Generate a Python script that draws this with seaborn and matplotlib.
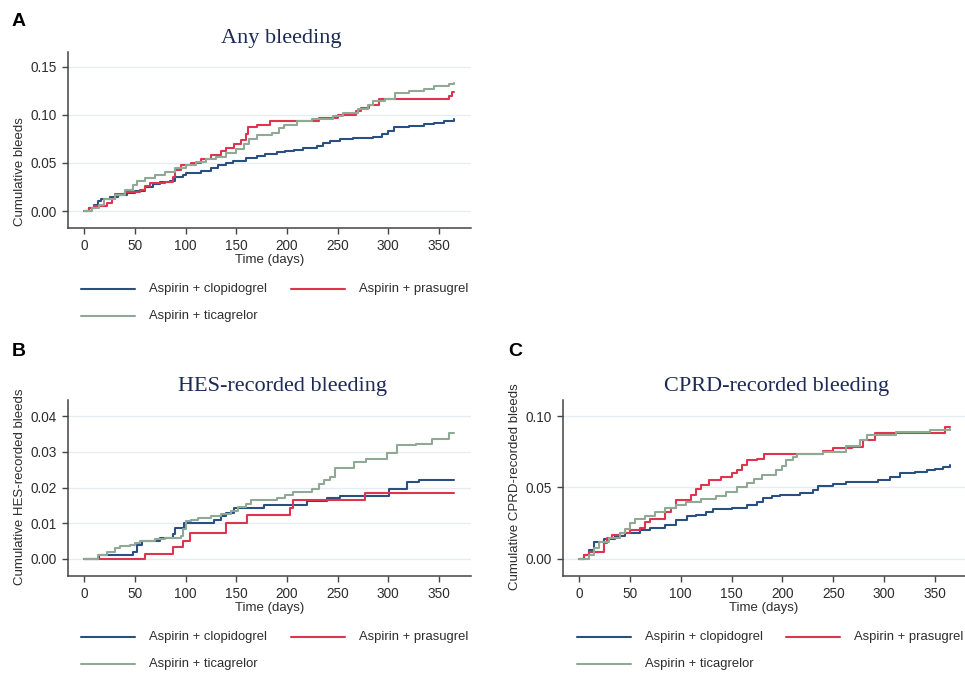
import pandas as pd
import matplotlib.pyplot as plt
import seaborn as sns
from matplotlib.lines import Line2D

# %%
groups = ["Aspirin + clopidogrel", "Aspirin + prasugrel", "Aspirin + ticagrelor"]
colors = ["#2a5081", "#de3450", "#8fa994"]

# Any bleeding
a_clop_t = [0, 5, 10, 14, 17, 25, 33, 42, 50, 60, 68, 75, 85, 90, 97, 100, 115, 125, 132, 140, 147, 160, 170,
            178, 190, 198, 207, 216, 230, 236, 242, 252, 265, 285, 294, 300, 306, 320, 335, 345, 355, 365]
a_clop_y = [0, 0.003, 0.006, 0.010, 0.013, 0.015, 0.017, 0.019, 0.021, 0.025, 0.028, 0.030, 0.031, 0.035, 0.038,
            0.040, 0.042, 0.045, 0.048, 0.050, 0.052, 0.055, 0.057, 0.059, 0.061, 0.063, 0.064, 0.066, 0.068,
            0.071, 0.073, 0.075, 0.076, 0.077, 0.080, 0.083, 0.087, 0.089, 0.091, 0.092, 0.094, 0.096]
a_pras_t = [0, 5, 10, 22, 27, 30, 40, 55, 60, 65, 80, 88, 90, 95, 105, 115, 125, 135, 140, 148, 155, 160, 162,
            170, 183, 232, 250, 268, 273, 281, 291, 360, 363, 365]
a_pras_y = [0, 0.003, 0.005, 0.008, 0.012, 0.018, 0.020, 0.022, 0.026, 0.029, 0.030, 0.035, 0.043, 0.048, 0.050,
            0.054, 0.058, 0.062, 0.066, 0.070, 0.074, 0.080, 0.087, 0.090, 0.094, 0.097, 0.100, 0.104, 0.107,
            0.110, 0.117, 0.120, 0.124, 0.124]
a_tica_t = [0, 8, 15, 20, 30, 40, 48, 52, 60, 70, 80, 90, 100, 110, 120, 130, 140, 150, 158, 163, 170, 185, 192,
            197, 210, 225, 245, 255, 270, 280, 285, 297, 307, 320, 335, 345, 360, 365]
a_tica_y = [0, 0.003, 0.006, 0.012, 0.017, 0.022, 0.027, 0.031, 0.034, 0.037, 0.041, 0.045, 0.048, 0.051, 0.054,
            0.056, 0.060, 0.065, 0.070, 0.075, 0.079, 0.081, 0.086, 0.090, 0.094, 0.096, 0.099, 0.102, 0.106,
            0.110, 0.115, 0.117, 0.123, 0.125, 0.127, 0.130, 0.132, 0.133]

# HES-recorded bleeding
b_clop_t = [0, 15, 48, 52, 57, 75, 88, 90, 98, 128, 135, 140, 148, 177, 220, 240, 252, 301, 318, 330, 365]
b_clop_y = [0, 0.001, 0.002, 0.004, 0.005, 0.006, 0.007, 0.0088, 0.0102, 0.011, 0.012, 0.013, 0.0142, 0.0152,
            0.0163, 0.0170, 0.0177, 0.0196, 0.0215, 0.0221, 0.0221]
b_pras_t = [0, 60, 88, 97, 104, 140, 161, 203, 206, 277, 365]
b_pras_y = [0, 0.0015, 0.0033, 0.0049, 0.0072, 0.0100, 0.0124, 0.0143, 0.0165, 0.0185, 0.0185]
b_tica_t = [0, 14, 22, 30, 35, 45, 50, 55, 70, 80, 95, 97, 100, 105, 112, 125, 135, 145, 152, 160, 165, 190, 198,
            206, 225, 232, 237, 242, 247, 266, 278, 299, 309, 327, 343, 360, 365]
b_tica_y = [0, 0.001, 0.002, 0.003, 0.0035, 0.004, 0.0045, 0.005, 0.0055, 0.006, 0.0065, 0.0085, 0.0105, 0.011,
            0.0115, 0.012, 0.0125, 0.0135, 0.0145, 0.0153, 0.0165, 0.0170, 0.0179, 0.0188, 0.0195, 0.021, 0.022,
            0.023, 0.0256, 0.0272, 0.0281, 0.0298, 0.0318, 0.0323, 0.0337, 0.0354, 0.0354]

# CPRD-recorded bleeding
c_clop_t = [0, 5, 10, 15, 25, 35, 45, 60, 70, 85, 95, 106, 115, 125, 132, 150, 165, 175, 181, 190, 198, 217, 230,
            235, 250, 263, 294, 306, 316, 330, 342, 350, 358, 365]
c_clop_y = [0, 0.003, 0.006, 0.012, 0.014, 0.016, 0.018, 0.020, 0.022, 0.024, 0.027, 0.030, 0.031, 0.033, 0.035,
            0.036, 0.038, 0.040, 0.0425, 0.044, 0.045, 0.046, 0.048, 0.051, 0.0525, 0.054, 0.055, 0.0575, 0.060,
            0.061, 0.062, 0.063, 0.064, 0.066]
c_pras_t = [0, 5, 10, 25, 28, 32, 40, 50, 60, 65, 70, 85, 90, 95, 110, 115, 120, 128, 140, 150, 155, 160, 165,
            175, 182, 240, 250, 268, 279, 291, 360, 365]
c_pras_y = [0, 0.003, 0.005, 0.011, 0.015, 0.017, 0.018, 0.020, 0.022, 0.026, 0.028, 0.033, 0.036, 0.041, 0.045,
            0.049, 0.052, 0.055, 0.057, 0.060, 0.062, 0.066, 0.069, 0.070, 0.0733, 0.0755, 0.0775, 0.078, 0.083,
            0.088, 0.092, 0.092]
c_tica_t = [0, 10, 15, 20, 30, 40, 45, 50, 55, 65, 75, 85, 95, 105, 120, 135, 145, 155, 165, 172, 180, 194, 200,
            204, 210, 214, 240, 263, 276, 283, 312, 345, 365]
c_tica_y = [0, 0.003, 0.008, 0.012, 0.015, 0.018, 0.021, 0.025, 0.028, 0.030, 0.033, 0.036, 0.038, 0.040, 0.042,
            0.044, 0.047, 0.050, 0.053, 0.056, 0.059, 0.062, 0.065, 0.069, 0.071, 0.0733, 0.075, 0.0788, 0.083,
            0.087, 0.0888, 0.0905, 0.091]


def make_df(series):
    frames = []
    for g, (t, y) in zip(groups, series):
        frames.append(pd.DataFrame({"time": t, "cum": y, "group": g}))
    return pd.concat(frames, ignore_index=True)


panels = [
    dict(df=make_df([(a_clop_t, a_clop_y), (a_pras_t, a_pras_y), (a_tica_t, a_tica_y)]),
         title="Any bleeding", ylabel="Cumulative bleeds", letter="A",
         rect=[68 / 965, 1 - 228 / 673, 403 / 965, 176 / 673],
         xlim=(-16, 381.6), ylim=(-0.0177, 0.1656), yticks=[0, 0.05, 0.10, 0.15],
         letter_xy=(12, 22), title_xy=(281, 38), ylab_xy=(20, 172), leg_xy=(81, 302.5), col2=291),
    dict(df=make_df([(b_clop_t, b_clop_y), (b_pras_t, b_pras_y), (b_tica_t, b_tica_y)]),
         title="HES-recorded bleeding", ylabel="Cumulative HES-recorded bleeds", letter="B",
         rect=[68 / 965, 1 - 576 / 673, 403 / 965, 176 / 673],
         xlim=(-16, 381.6), ylim=(-0.00476, 0.0445), yticks=[0, 0.01, 0.02, 0.03, 0.04],
         letter_xy=(12, 352), title_xy=(282, 386), ylab_xy=(20, 487), leg_xy=(81, 650.5), col2=291),
    dict(df=make_df([(c_clop_t, c_clop_y), (c_pras_t, c_pras_y), (c_tica_t, c_tica_y)]),
         title="CPRD-recorded bleeding", ylabel="Cumulative CPRD-recorded bleeds", letter="C",
         rect=[563 / 965, 1 - 576 / 673, 402 / 965, 176 / 673],
         xlim=(-15.7, 379.5), ylim=(-0.0119, 0.1112), yticks=[0, 0.05, 0.10],
         letter_xy=(508, 352), title_xy=(777, 386), ylab_xy=(515, 487), leg_xy=(577, 650.5), col2=786),
]

sns.set_style("white")
plt.rcParams["font.family"] = ["Liberation Sans", "DejaVu Sans"]

fig = plt.figure(figsize=(9.65, 6.73), dpi=100)
W, H = 965, 673

for p in panels:
    ax = fig.add_axes(p["rect"])
    sns.lineplot(data=p["df"], x="time", y="cum", hue="group", palette=colors, hue_order=groups,
                 drawstyle="steps-post", linewidth=1.5, legend=False, estimator=None, ax=ax)
    ax.set_xlim(*p["xlim"])
    ax.set_ylim(*p["ylim"])
    ax.set_xticks(range(0, 351, 50))
    ax.set_yticks(p["yticks"])
    ax.set_yticklabels([f"{v:.2f}" for v in p["yticks"]])
    ax.yaxis.grid(True, color="#e4edf1", linewidth=1.0)
    ax.set_axisbelow(True)
    for s in ["top", "right"]:
        ax.spines[s].set_visible(False)
    for s in ["left", "bottom"]:
        ax.spines[s].set_color("#444444")
        ax.spines[s].set_linewidth(1.1)
    ax.tick_params(axis="both", direction="out", length=4.5, width=1, color="#444444",
                   labelsize=9.8, labelcolor="#2d2d2d", bottom=True, left=True, pad=3.5)
    ax.set_xlabel("Time (days)", fontsize=9.5, color="#2d2d2d", labelpad=0.5)
    ax.set_ylabel("")
    fig.text(p["ylab_xy"][0] / W, 1 - p["ylab_xy"][1] / H, p["ylabel"], rotation=90,
             ha="center", va="center", fontsize=9.5, color="#2d2d2d")
    fig.text(p["title_xy"][0] / W, 1 - p["title_xy"][1] / H, p["title"],
             fontfamily=["Liberation Serif", "DejaVu Serif"], fontsize=16,
             color="#1c2b55", ha="center", va="center")
    fig.text(p["letter_xy"][0] / W, 1 - p["letter_xy"][1] / H, p["letter"], fontsize=14,
             fontweight="bold", ha="left", va="center", color="black")

    # legend in two rows, Stata style
    lx, ly = p["leg_xy"]
    rows = [(groups[0], colors[0], lx, ly - 13.5), (groups[1], colors[1], p["col2"], ly - 13.5),
            (groups[2], colors[2], lx, ly + 13.5)]
    for label, c, x, y in rows:
        fig.add_artist(Line2D([x / W, (x + 54) / W], [1 - y / H, 1 - y / H], color=c, linewidth=1.5))
        fig.text((x + 68) / W, 1 - y / H, label, fontsize=9.4, color="#2d2d2d", ha="left", va="center")

fig.savefig("out.png", dpi=100)
